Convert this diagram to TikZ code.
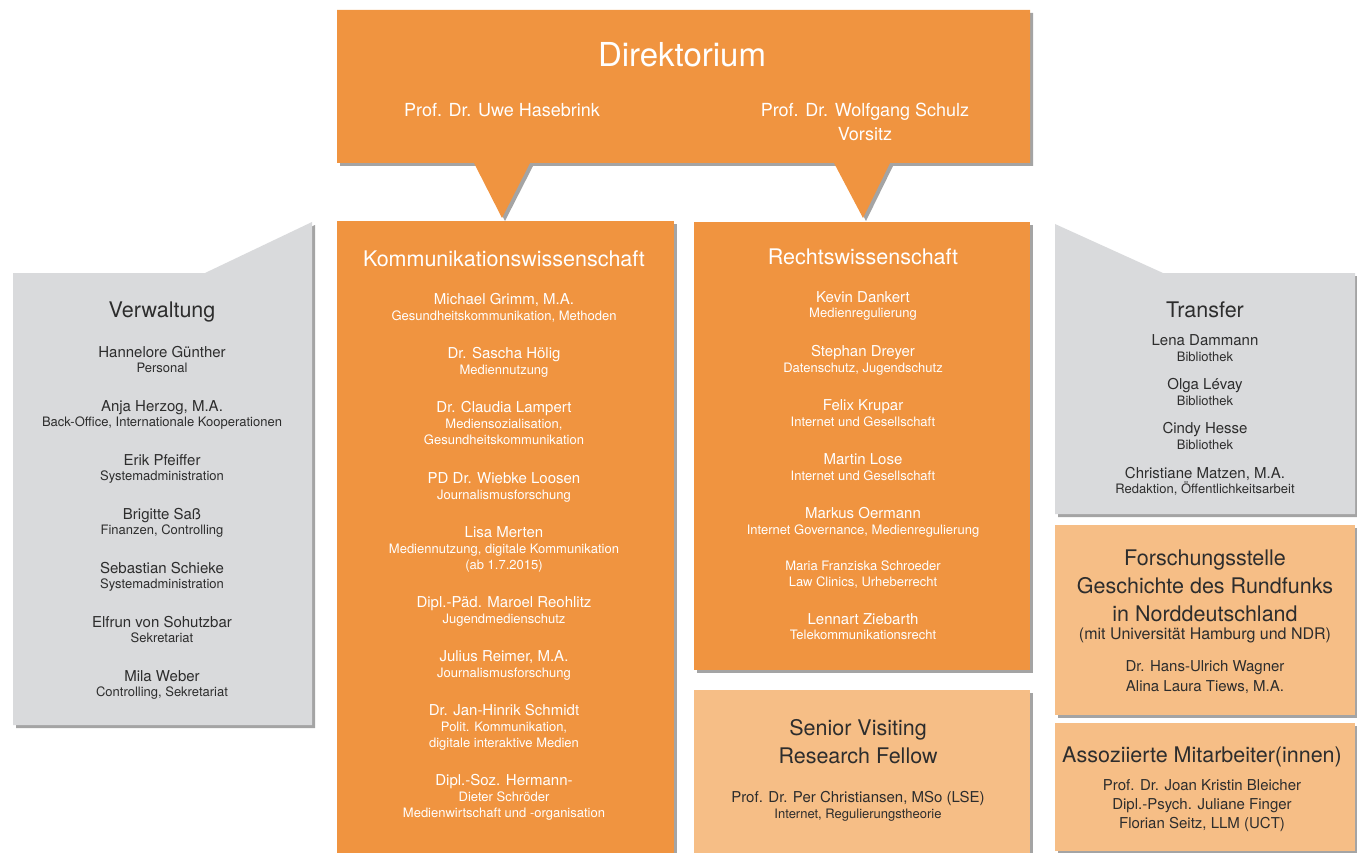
\documentclass[tikz,border=0pt]{standalone}
\usepackage{fontspec}
\setmainfont{TeX Gyre Heros}
\usetikzlibrary{shadows}
\definecolor{dorange}{RGB}{240,148,64}
\definecolor{lorange}{RGB}{246,190,134}
\definecolor{lgray}{RGB}{217,218,220}
\definecolor{dtext}{RGB}{45,45,45}
\tikzset{
	shad/.style={drop shadow={shadow xshift=3pt, shadow yshift=-3pt, opacity=.55, fill=black!65}},
	title/.style={font=\fontsize{33}{36}\selectfont},
	boss/.style={font=\fontsize{18}{20}\selectfont},
	head/.style={font=\fontsize{21.5}{24}\selectfont},
	pname/.style={font=\fontsize{15}{17}\selectfont},
	pmid/.style={font=\fontsize{16}{18}\selectfont},
	psub/.style={font=\fontsize{13}{15}\selectfont},
}
\begin{document}
\begin{tikzpicture}[x=1pt, y=-1pt, line join=round, nodes={inner sep=0pt, anchor=base}]
	\useasboundingbox (0,0) rectangle (1357,853);
	% boxes
	\fill[dorange, shad] (337,10) -- (1030,10) -- (1030,163) -- (890,163) -- (863,218) -- (834,163)
		-- (530,163) -- (502,218) -- (474,163) -- (337,163) -- cycle;
	\fill[lgray, shad] (13,273) -- (205,273) -- (312,222) -- (312,725) -- (13,725) -- cycle;
	\fill[lgray, shad] (1055,224) -- (1163,273) -- (1355,273) -- (1355,514) -- (1055,514) -- cycle;
	\fill[dorange, shad] (337,221) rectangle (674,870);
	\fill[dorange, shad] (694,222) rectangle (1030,670);
	\fill[lorange, shad] (694,690) rectangle (1030,870);
	\fill[lorange, shad] (1055,525) rectangle (1355,715);
	\fill[lorange, shad] (1055,723) rectangle (1355,851);
	% Direktorium
	\begin{scope}[nodes={text=white}]
	\node[title] (dir) at (682,67) {Direktorium};
	\node[boss] (hase) at (502,117) {Prof. Dr. Uwe Hasebrink};
	\node[boss] (schulz) at (865,117) {Prof. Dr. Wolfgang Schulz};
	\node[boss] (vors) at (865,141) {Vorsitz};
	\end{scope}
	% Verwaltung
	\begin{scope}[nodes={text=dtext}]
	\node[head] (verw) at (162,317) {Verwaltung};
	\node[pname] (v1) at (162,357) {Hannelore Günther};
	\node[psub] (v1s) at (162,372) {Personal};
	\node[pname] (v2) at (162,411) {Anja Herzog, M.A.};
	\node[psub] (v2s) at (162,426) {Back-Office, Internationale Kooperationen};
	\node[pname] (v3) at (162,465) {Erik Pfeiffer};
	\node[psub] (v3s) at (162,480) {Systemadministration};
	\node[pname] (v4) at (162,519) {Brigitte Saß};
	\node[psub] (v4s) at (162,534) {Finanzen, Controlling};
	\node[pname] (v5) at (162,573) {Sebastian Schieke};
	\node[psub] (v5s) at (162,588) {Systemadministration};
	\node[pname] (v6) at (162,627) {Elfrun von Sohutzbar};
	\node[psub] (v6s) at (162,642) {Sekretariat};
	\node[pname] (v7) at (162,681) {Mila Weber};
	\node[psub] (v7s) at (162,696) {Controlling, Sekretariat};
	\end{scope}
	% Kommunikationswissenschaft
	\begin{scope}[nodes={text=white}]
	\node[head] (komm) at (504,266) {Kommunikationswissenschaft};
	\node[pname] (k1) at (504,304) {Michael Grimm, M.A.};
	\node[psub] (k1s) at (504,320) {Gesundheitskommunikation, Methoden};
	\node[pname] (k2) at (504,358) {Dr. Sascha Hölig};
	\node[psub] (k2s) at (504,374) {Mediennutzung};
	\node[pname] (k3) at (504,412) {Dr. Claudia Lampert};
	\node[psub] (k3s) at (504,428) {Mediensozialisation,};
	\node[psub] (k3t) at (504,444) {Gesundheitskommunikation};
	\node[pname] (k4) at (504,483) {PD Dr. Wiebke Loosen};
	\node[psub] (k4s) at (504,499) {Journalismusforschung};
	\node[pname] (k5) at (504,537) {Lisa Merten};
	\node[psub] (k5s) at (504,553) {Mediennutzung, digitale Kommunikation};
	\node[psub] (k5t) at (504,569) {(ab 1.7.2015)};
	\node[pname] (k6) at (504,607) {Dipl.-Päd. Maroel Reohlitz};
	\node[psub] (k6s) at (504,623) {Jugendmedienschutz};
	\node[pname] (k7) at (504,661) {Julius Reimer, M.A.};
	\node[psub] (k7s) at (504,677) {Journalismusforschung};
	\node[pname] (k8) at (504,715) {Dr. Jan-Hinrik Schmidt};
	\node[psub] (k8s) at (504,731) {Polit. Kommunikation,};
	\node[psub] (k8t) at (504,747) {digitale interaktive Medien};
	\node[pname] (k9) at (504,785) {Dipl.-Soz. Hermann-};
	\node[psub] (k9s) at (504,801) {Dieter Schröder};
	\node[psub] (k9t) at (504,817) {Medienwirtschaft und -organisation};
	% Rechtswissenschaft
	\node[head] (recht) at (863,264) {Rechtswissenschaft};
	\node[pname] (r1) at (863,302) {Kevin Dankert};
	\node[psub] (r1s) at (863,317) {Medienregulierung};
	\node[pname] (r2) at (863,356) {Stephan Dreyer};
	\node[psub] (r2s) at (863,372) {Datenschutz, Jugendschutz};
	\node[pname] (r3) at (863,410) {Felix Krupar};
	\node[psub] (r3s) at (863,426) {Internet und Gesellschaft};
	\node[pname] (r4) at (863,464) {Martin Lose};
	\node[psub] (r4s) at (863,480) {Internet und Gesellschaft};
	\node[pname] (r5) at (863,518) {Markus Oermann};
	\node[psub] (r5s) at (863,534) {Internet Governance, Medienregulierung};
	\node[psub] (r6) at (863,570) {Maria Franziska Schroeder};
	\node[psub] (r6s) at (863,586) {Law Clinics, Urheberrecht};
	\node[pname] (r7) at (863,624) {Lennart Ziebarth};
	\node[psub] (r7s) at (863,639) {Telekommunikationsrecht};
	\end{scope}
	% Senior Visiting, Transfer, Forschungsstelle, Assoziierte
	\begin{scope}[nodes={text=dtext}]
	\node[head] (sen) at (858,735) {Senior Visiting};
	\node[head] (sen2) at (858,763) {Research Fellow};
	\node[pname] (s1) at (858,802) {Prof. Dr. Per Christiansen, MSo (LSE)};
	\node[psub] (s1s) at (858,818) {Internet, Regulierungstheorie};
	\node[head] (trans) at (1205,317) {Transfer};
	\node[pname] (t1) at (1205,345) {Lena Dammann};
	\node[psub] (t1s) at (1205,361) {Bibliothek};
	\node[pname] (t2) at (1205,389) {Olga Lévay};
	\node[psub] (t2s) at (1205,405) {Bibliothek};
	\node[pname] (t3) at (1205,433) {Cindy Hesse};
	\node[psub] (t3s) at (1205,449) {Bibliothek};
	\node[pname] (t4) at (1205,478) {Christiane Matzen, M.A.};
	\node[psub] (t4s) at (1205,493) {Redaktion, Öffentlichkeitsarbeit};
	\node[head] (fst) at (1205,565) {Forschungsstelle};
	\node[head] (fst2) at (1205,593) {Geschichte des Rundfunks};
	\node[head] (fst3) at (1205,621) {in Norddeutschland};
	\node[pmid] (fst4) at (1205,639) {(mit Universität Hamburg und NDR)};
	\node[pname] (f1) at (1205,671) {Dr. Hans-Ulrich Wagner};
	\node[pname] (f2) at (1205,691) {Alina Laura Tiews, M.A.};
	\node[head] (ass) at (1202,762) {Assoziierte Mitarbeiter(innen)};
	\node[pname] (a1) at (1202,790) {Prof. Dr. Joan Kristin Bleicher};
	\node[pname] (a2) at (1202,809) {Dipl.-Psych. Juliane Finger};
	\node[pname] (a3) at (1202,828) {Florian Seitz, LLM (UCT)};
	\end{scope}
\end{tikzpicture}
\end{document}
